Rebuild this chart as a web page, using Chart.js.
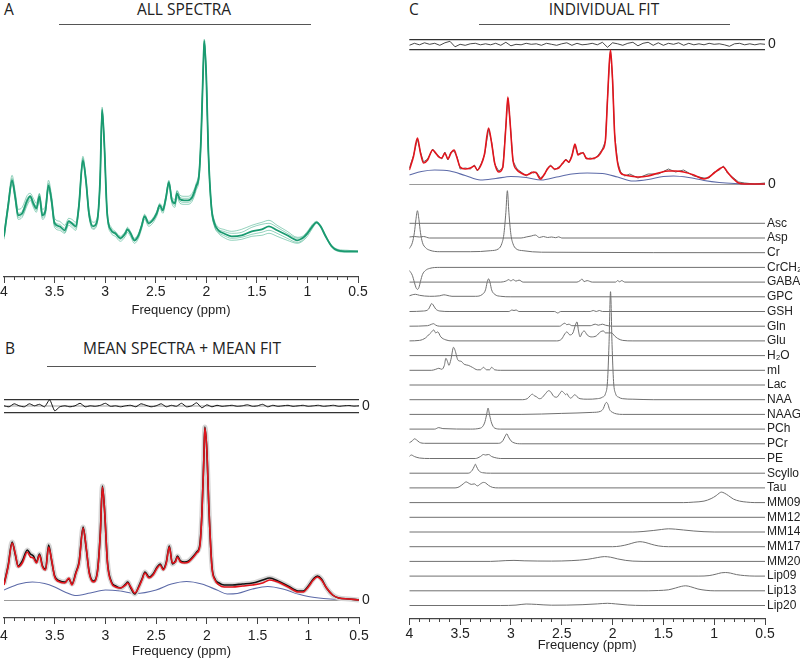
<!DOCTYPE html>
<html>
<head>
<meta charset="utf-8">
<script src="https://cdn.jsdelivr.net/npm/chart.js@4.4.1/dist/chart.umd.min.js"></script>
<style>
  body { margin:0; background:#fff; }
  #wrap { position:relative; width:800px; height:659px; overflow:hidden; }
  canvas { position:absolute; }
  .ttl { position:absolute; font-family:'Open Sans', sans-serif; font-size:15.5px; line-height:18px; color:#222; white-space:nowrap; }
  .mid { transform:translateX(-50%); }
  .rule { position:absolute; height:0; border-top:1.3px solid #555; }
</style>
</head>
<body>
<div id="wrap">
  <div class="ttl" style="left:4px;top:-0.5px">A</div>
  <div class="ttl mid" style="left:184px;top:-0.5px">ALL SPECTRA</div>
  <div class="rule" style="left:59px;top:24px;width:252px"></div>

  <div class="ttl" style="left:5px;top:338.5px">B</div>
  <div class="ttl mid" style="left:182px;top:338.5px">MEAN SPECTRA + MEAN FIT</div>
  <div class="rule" style="left:47px;top:366px;width:269px"></div>

  <div class="ttl" style="left:409px;top:-0.5px">C</div>
  <div class="ttl mid" style="left:604px;top:-0.5px">INDIVIDUAL FIT</div>
  <div class="rule" style="left:479px;top:24px;width:251px"></div>

  <canvas id="cA" width="420" height="300" style="left:-20px;top:30px"></canvas>
  <canvas id="cBres" width="400" height="40" style="left:0px;top:386px"></canvas>
  <canvas id="cB" width="420" height="249" style="left:-20px;top:410px"></canvas>
  <canvas id="cCres" width="400" height="40" style="left:400px;top:25px"></canvas>
  <canvas id="cC" width="400" height="175" style="left:400px;top:30px"></canvas>
  <canvas id="cBasis" width="420" height="489" style="left:380px;top:170px"></canvas>
</div>
<script>
// shared ppm grid for the full spectra
const ppm = [4.00,3.96,3.92,3.89,3.86,3.82,3.77,3.74,3.71,3.68,3.65,3.62,3.59,3.56,3.53,3.50,3.45,3.40,3.36,3.33,
  3.29,3.26,3.22,3.19,3.16,3.12,3.08,3.05,3.03,3.01,2.98,2.94,2.90,2.85,2.80,2.78,2.75,2.71,2.67,2.64,
  2.61,2.57,2.53,2.49,2.46,2.43,2.40,2.37,2.34,2.31,2.29,2.26,2.22,2.18,2.14,2.10,2.07,2.05,2.03,2.02,
  2.00,1.98,1.95,1.92,1.88,1.83,1.75,1.65,1.55,1.45,1.38,1.30,1.20,1.10,1.05,1.00,0.95,0.91,0.87,0.82,
  0.76,0.70,0.60,0.50];

// A: all spectra
const specAmean = [17,47,73,57,38,40,53,57,50,45,57,38,43,68,53,30,27,23,32,30,27,47,93,73,40,27,32,73,143,113,
  40,23,20,15,20,24,20,13,18,27,37,30,33,40,48,43,55,71,53,50,60,54,53,53,56,67,80,120,187,212,
  177,103,47,30,23,20,17,18,22,24,27,23,18,13,15,20,27,31,27,17,7,3,2,2];
const specA1 = [19,50,78,62,44,46,58,60,55,50,60,44,48,73,58,35,32,28,35,34,31,50,97,76,44,31,35,75,146,116,
  43,26,22,17,22,26,22,15,20,29,39,32,35,42,50,46,57,73,56,54,63,58,57,57,60,70,84,124,190,214,
  180,106,50,33,26,24,22,24,28,31,33,28,22,16,17,22,29,32,28,18,8,4,3,2];
const specA2 = [14,43,69,53,34,36,48,53,46,41,53,34,39,64,49,26,23,20,28,26,23,43,90,70,37,24,29,70,140,110,
  37,20,17,12,17,21,17,10,15,24,34,27,30,37,45,40,52,68,50,46,56,50,49,49,52,63,76,117,184,209,
  174,100,44,27,20,16,13,14,17,18,20,17,13,10,12,17,25,30,26,16,6,2,1,1];
const specA3 = [16,46,75,58,40,42,55,58,52,47,59,40,45,70,55,32,29,25,33,31,29,48,95,74,41,28,33,74,144,114,
  41,24,21,16,21,25,21,14,19,28,38,31,34,41,49,44,56,72,54,52,62,56,55,55,58,68,82,122,188,213,
  178,104,48,31,24,22,20,21,26,29,30,26,20,15,16,21,28,31,27,17,7,3,2,2];
const specA4 = [18,48,71,55,36,38,50,55,48,43,55,36,41,66,51,28,25,21,30,28,25,45,91,71,38,25,30,71,141,112,
  39,22,19,14,19,23,19,12,17,26,36,29,32,39,47,42,54,70,52,48,58,52,51,51,54,65,78,118,185,210,
  175,102,45,28,21,18,15,16,19,21,23,20,15,11,13,19,26,31,27,17,7,3,2,2];

// B: mean spectrum + mean fit
const meanDataB = [16,34,58,46,34,39,50,46,44,38,46,34,31,55,39,24,19,18,21,16,28,38,73,52,28,19,28,68,114,92,
  38,18,14,12,16,18,12,6,14,21,28,23,26,33,36,31,38,54,36,39,44,39,38,39,43,48,55,84,141,173,
  149,92,34,21,17,15,15,16,17,20,22,19,14,9,9,14,21,24,21,12,5,2,1,0];
const meanFitB = [15,33,57,47,33,37,48,43,42,37,45,33,30,53,40,23,18,17,22,15,27,37,72,53,27,18,27,67,113,93,
  37,17,13,12,15,17,13,7,13,20,27,22,25,32,35,30,37,53,37,38,43,38,37,38,42,47,53,83,140,172,
  150,93,33,20,15,13,13,14,15,17,20,18,13,8,8,13,20,23,20,12,5,2,1,0];
const baselineB = [[4,10],[3.85,16],[3.72,18],[3.6,16.5],[3.5,13],[3.4,8],[3.3,4.5],[3.15,7],[3.0,10],[2.85,9],
  [2.7,6.5],[2.5,10],[2.35,16],[2.2,18.5],[2.05,16],[1.9,10],[1.8,6],[1.7,6.5],[1.55,11],[1.4,13.5],
  [1.25,11],[1.1,6],[1.0,3.5],[0.85,1.5],[0.7,0.5],[0.5,0]];

// C: individual fit
const dataC = [16,28,45,32,22,25,35,30,28,25,32,24,32,33,27,15,16,15,19,13,21,29,55,42,20,13,16,58,86,65,
  23,15,12,8,12,11,12,6,9,16,19,14,17,20,25,21,29,39,30,30,32,25,26,25,29,35,43,85,123,133,
  105,50,22,12,8,10,6,10,10,15,12,14,8,6,6,12,14,18,11,7,2,1,0,1];
const fitC = [14,27,46,31,21,24,34,31,27,26,31,25,31,34,26,17,15,16,18,14,20,30,56,41,21,12,17,57,87,64,
  24,14,11,9,11,12,11,5,10,15,18,15,16,21,24,22,28,40,29,31,31,26,25,26,28,34,44,84,124,134,
  104,51,21,11,9,8,7,8,11,13,13,12,9,5,7,11,15,17,12,6,1,0,0,0];
const baselineC = [[4,9],[3.88,12.5],[3.75,14],[3.6,13],[3.45,8.5],[3.3,4],[3.15,5.5],[3.0,7.5],[2.85,6.5],[2.7,4],
  [2.55,7],[2.4,10],[2.25,11],[2.1,10.5],[1.95,7],[1.8,3],[1.65,4.5],[1.5,7.5],[1.4,8],[1.25,6.5],
  [1.1,3.5],[0.95,1.5],[0.8,0.5],[0.6,0],[0.5,0]];

// residuals
const resPpm = [4,3.95,3.9,3.85,3.8,3.75,3.7,3.65,3.6,3.55,3.5,3.45,3.4,3.35,3.3,3.25,3.2,3.15,3.1,3.05,
  3,2.95,2.9,2.85,2.8,2.75,2.7,2.65,2.6,2.55,2.5,2.45,2.4,2.35,2.3,2.25,2.2,2.15,2.1,2.05,
  2,1.95,1.9,1.85,1.8,1.75,1.7,1.65,1.6,1.55,1.5,1.45,1.4,1.35,1.3,1.25,1.2,1.15,1.1,1.05,
  1,0.95,0.9,0.85,0.8,0.75,0.7,0.65,0.6,0.55,0.5];
const resB = [0,-1,2,0,-1,2,0,1.5,-1,6,-5,-1,0,-1,0,2.5,-1,0,-0.5,0.5,
  2.5,-0.5,0,-1,0,0.5,-1,2,0.5,-1,0,2,-1,0.5,-0.5,2.5,-1,0,3,-2,
  1,-1,0.5,-0.5,0,0.5,-0.5,0,1,-0.5,0,1.5,-1,0.5,-0.5,0,0.5,-0.5,0,0.5,
  -0.5,0,0.5,-0.5,0,0.5,-0.5,0,0.3,-0.3,0];
const resC = [-1,1,-0.5,1.5,0,1,-1,1.5,3,-2.5,0,-1,0.5,1,-0.5,0.5,-0.5,1,-1,2,
  -1.5,0,-0.5,1,0,0.5,-1,1,0,-1,0.5,1.5,-1,1,-0.5,0,1,-0.5,2,-3,
  1.5,0.5,-1,1,2,-1.5,1,2,-1,1.5,-1,1,0,1.5,-1,1,-0.5,0.5,-0.5,1,
  0,0.5,-0.5,-2,0.5,1,-0.5,0.5,-0.5,0.5,0];

// C: basis functions, [ppm, height]
const metabNames = ['Asc','Asp','Cr','CrCH₂','GABA','GPC','GSH','Gln','Glu','H₂O','mI','Lac','NAA','NAAG',
  'PCh','PCr','PE','Scyllo','Tau','MM09','MM12','MM14','MM17','MM20','Lip09','Lip13','Lip20'];
const Asc = [[4,0],[0.5,0]];
const Asp = [[4,1],[3.95,1.5],[3.9,1],[3.86,1.5],[3.8,0],[2.9,0],[2.85,1],[2.8,2],[2.76,3],[2.72,0.5],[2.68,1.5],
  [2.64,0.5],[2.6,1],[2.56,0.3],[2.53,1.2],[2.5,0],[0.5,0]];
const Cr = [[4,4],[3.97,10],[3.95,20],[3.935,33],[3.92,42],[3.905,33],[3.89,20],[3.87,10],[3.84,5],[3.8,2.5],
  [3.7,1],[3.4,1],[3.2,2],[3.12,4],[3.09,9],[3.07,18],[3.05,40],[3.035,62],[3.02,40],[3.0,18],[2.98,9],
  [2.95,4],[2.88,2],[2.7,0.5],[0.5,0]];
const CrCH2 = [[4,-3],[3.97,-8],[3.95,-15],[3.935,-20],[3.92,-22],[3.905,-20],[3.89,-14],[3.87,-7],[3.84,-3],
  [3.8,-1],[3.7,0],[0.5,0]];
const GABA = [[4,0],[3.1,0],[3.05,1],[3.02,2.5],[3.0,1],[2.98,2.5],[2.95,1],[2.92,2],[2.88,0],[2.35,0],[2.32,1.5],
  [2.3,3],[2.28,0.5],[2.25,1.5],[2.2,0],[1.97,0],[1.95,1.5],[1.93,0.3],[1.91,1.5],[1.88,0],[0.5,0]];
const GPC = [[4,1],[3.97,2],[3.94,2.5],[3.9,1.5],[3.8,0.5],[3.7,1],[3.66,2],[3.63,1.5],[3.58,0.5],[3.35,0.5],
  [3.28,2.5],[3.25,7],[3.235,14],[3.22,18],[3.205,14],[3.19,7],[3.16,2.5],[3.1,0.5],[3.0,0],[0.5,0]];
const GSH = [[4,0],[3.86,0.5],[3.81,2.5],[3.79,6.5],[3.78,8],[3.765,6.5],[3.74,2.5],[3.7,0.5],[3.6,0],[3.02,0],
  [2.99,1.5],[2.97,1],[2.95,1.5],[2.92,0],[2.57,0],[2.54,-1.5],[2.51,0],[2.22,0],[2.19,1],[2.16,0],[2.13,1],
  [2.1,0],[0.5,0]];
const Gln = [[4,0],[3.82,0.5],[3.78,2],[3.76,2.5],[3.74,1],[3.7,0],[2.52,0],[2.49,2],[2.47,3],[2.45,1.5],
  [2.43,2],[2.4,0.5],[2.22,0.5],[2.17,2],[2.14,1],[2.1,2],[2.07,1],[2.0,0],[0.5,0]];
const Glu = [[4,0],[3.9,0.5],[3.84,3],[3.8,7],[3.78,9],[3.76,11],[3.74,8],[3.72,9],[3.69,4],[3.64,1],[3.58,0],
  [2.55,0],[2.5,2],[2.47,7],[2.45,9],[2.42,6],[2.39,8],[2.365,16],[2.35,19],[2.335,10],[2.32,4],[2.3,8],[2.28,10],
  [2.25,6],[2.21,4],[2.16,5],[2.12,9],[2.09,10],[2.07,8],[2.04,8],[2.01,8],[1.98,5],[1.95,2.5],[1.9,0.5],
  [1.8,0],[0.5,0]];
const H2O = [[4,0],[0.5,0]];
const mI = [[4,0],[3.78,0],[3.74,1],[3.71,2],[3.68,1],[3.655,5],[3.64,12],[3.625,9],[3.61,5],[3.59,11],[3.565,23],
  [3.55,20],[3.52,10],[3.49,9],[3.46,6],[3.42,5],[3.38,3],[3.33,0.5],[3.3,0.5],[3.27,3],[3.24,0.5],[3.21,0.5],
  [3.19,3],[3.16,0.5],[3.1,0],[0.5,0]];
const Lac = [[4,0],[0.5,0]];
const NAA = [[4,0],[2.9,0],[2.84,1],[2.81,4],[2.79,5.5],[2.77,4],[2.75,3],[2.72,1],[2.7,1.5],[2.66,6],[2.63,9],
  [2.61,8],[2.58,3.5],[2.55,2.5],[2.52,6],[2.5,8.5],[2.48,7],[2.46,5],[2.45,6],[2.43,3],[2.41,1.5],[2.39,3.5],
  [2.37,5],[2.35,3],[2.32,1],[2.25,0.5],[2.15,1],[2.1,2.5],[2.07,6],[2.05,18],[2.035,55],[2.02,108],[2.005,55],
  [1.99,18],[1.97,6],[1.94,2.5],[1.9,1],[1.8,0.5],[1.6,0],[0.5,0]];
const NAAG = [[4,0],[2.9,0],[2.5,1],[2.2,2],[2.12,3],[2.09,6],[2.075,10],[2.06,12],[2.045,10],[2.03,5],[2.0,2],
  [1.96,0.5],[1.9,0],[0.5,0]];
const PCh = [[4,0],[3.75,0],[3.71,1.5],[3.67,0.5],[3.4,0],[3.3,1],[3.26,6],[3.24,14],[3.225,21],[3.21,14],
  [3.19,6],[3.16,1],[3.1,0],[0.5,0]];
const PCr = [[4,1],[3.97,3],[3.95,5],[3.93,4],[3.9,1.5],[3.85,0.5],[3.12,0.5],[3.08,3],[3.06,7],[3.04,10],
  [3.025,7],[3.0,3],[2.97,1],[2.9,0],[0.5,0]];
const PE = [[4,2],[3.98,3.5],[3.95,2],[3.9,0.5],[3.8,0],[3.35,0],[3.3,2],[3.27,4],[3.25,3.5],[3.22,4],[3.19,2],
  [3.14,0.5],[3.1,0],[0.5,0]];
const Scyllo = [[4,0],[3.42,0],[3.38,3],[3.36,7],[3.35,9],[3.34,7],[3.32,3],[3.28,0.5],[3.2,0],[0.5,0]];
const Tau = [[4,0],[3.55,0],[3.51,1],[3.47,4],[3.44,6],[3.42,5],[3.39,3.5],[3.36,4],[3.33,2],[3.3,4],[3.27,5.5],
  [3.25,5],[3.22,2.5],[3.18,0.5],[3.12,0],[0.5,0]];
const MM09 = [[4,0],[1.3,0],[1.2,0.5],[1.1,1.5],[1.03,4],[0.98,7],[0.95,9.5],[0.93,10.5],[0.9,9.5],[0.86,7],
  [0.81,3.5],[0.75,1.5],[0.68,0.5],[0.6,0],[0.5,0]];
const MM12 = [[4,0],[0.5,0]];
const MM14 = [[4,0],[1.8,0],[1.7,0.5],[1.6,1.5],[1.52,2.5],[1.45,3.2],[1.38,2.8],[1.3,2],[1.2,1],[1.1,0.3],
  [1.0,0],[0.5,0]];
const MM17 = [[4,0],[2.0,0],[1.92,0.7],[1.84,2.5],[1.78,4.3],[1.73,5],[1.68,4.3],[1.62,2.5],[1.55,0.8],
  [1.45,0],[0.5,0]];
const MM20 = [[4,0],[3.2,0],[3.05,0.8],[2.97,1],[2.87,0.6],[2.6,0.3],[2.4,0.8],[2.25,2],[2.15,3.8],[2.08,4.8],
  [2.02,4.2],[1.95,2.5],[1.87,1],[1.8,0.3],[1.7,0],[0.5,0]];
const Lip09 = [[4,0],[1.15,0],[1.05,0.5],[0.98,2],[0.93,3.3],[0.89,3.6],[0.84,3],[0.78,1.5],[0.7,0.5],[0.6,0],[0.5,0]];
const Lip13 = [[4,0],[1.65,0],[1.55,0.3],[1.45,1],[1.38,2.8],[1.32,4.5],[1.28,5],[1.23,4],[1.16,1.8],[1.08,0.5],
  [1.0,0],[0.5,0]];
const Lip20 = [[4,0],[3.1,0],[2.95,0.4],[2.85,1.5],[2.75,1.1],[2.6,0.3],[2.45,0.4],[2.3,0.8],[2.15,1.6],[2.05,2.2],
  [1.97,1.6],[1.85,0.5],[1.7,0],[0.5,0]];
const basisList = [Asc,Asp,Cr,CrCH2,GABA,GPC,GSH,Gln,Glu,H2O,mI,Lac,NAA,NAAG,PCh,PCr,PE,Scyllo,Tau,
  MM09,MM12,MM14,MM17,MM20,Lip09,Lip13,Lip20];

const majorTicks = [4,3.5,3,2.5,2,1.5,1,0.5];

Chart.defaults.font.family = "'Liberation Sans', Arial, sans-serif";
Chart.defaults.color = '#222';

const onGrid = ys => ppm.map((x, i) => ({x: x, y: ys[i]}));
const onRes = ys => resPpm.map((x, i) => ({x: x, y: ys[i]}));
const fromPairs = (a, off) => a.map(p => ({x: p[0], y: p[1] + (off || 0)}));

function line(data, color, width, extra) {
  return Object.assign({data: data, borderColor: color, borderWidth: width, pointRadius: 0, fill: false,
    cubicInterpolationMode: 'monotone'}, extra || {});
}

const base = {
  responsive: false, animation: false, events: [],
  plugins: {legend: {display: false}, tooltip: {enabled: false}}
};

function xHidden() {
  return {type: 'linear', reverse: true, min: 0.5, max: 4, display: false};
}

function xAxes(h, labelPad, titlePad) {
  return {
    x: {
      type: 'linear', reverse: true, min: 0.5, max: 4, position: 'bottom', weight: 1,
      afterBuildTicks: s => { s.ticks = majorTicks.map(v => ({value: v})); },
      ticks: {callback: v => String(Math.round(v * 10) / 10), font: {size: 14}, padding: labelPad, maxRotation: 0, autoSkip: false},
      grid: {drawOnChartArea: false, tickLength: 6, color: '#444', tickWidth: 1},
      border: {color: '#444', width: 1.2},
      title: {display: true, text: 'Frequency (ppm)', font: {size: 13}, padding: {top: 0, bottom: titlePad}},
      afterFit: s => { s.height = h; }
    },
    xm: {
      type: 'linear', reverse: true, min: 0.5, max: 4, position: 'bottom', weight: 0,
      afterBuildTicks: s => {
        const t = [];
        for (let k = 40; k >= 5; k--) t.push({value: k / 10});
        s.ticks = t;
      },
      ticks: {display: false},
      grid: {drawOnChartArea: false, tickLength: 3, color: '#444', tickWidth: 1},
      border: {display: false},
      afterFit: s => { s.height = 0; }
    }
  };
}

// right-hand axis that shows a single "0" label, optional frame lines at the limits
function zeroAxis(min, max, frame, zeroColor) {
  return {
    type: 'linear', position: 'right', min: min, max: max,
    afterBuildTicks: s => { s.ticks = (frame ? [min, 0, max] : [0]).map(v => ({value: v})); },
    ticks: {callback: v => (v === 0 ? '0' : ''), font: {size: 14, lineHeight: 1}, padding: 0, autoSkip: false},
    grid: {drawTicks: true, tickLength: 3, tickColor: 'rgba(0,0,0,0)',
      color: c => (c.tick && c.tick.value === 0 ? zeroColor : '#333'),
      lineWidth: c => (c.tick && c.tick.value === 0 ? (frame ? 2 : 1) : 1.2)},
    border: {display: false},
    afterFit: s => { s.width = 14; }
  };
}

// ---- A
new Chart(document.getElementById('cA'), {
  type: 'line',
  data: {datasets: [
    line(onGrid(specAmean), '#1a9a70', 1.8),
    line(onGrid(specA1), 'rgba(30,160,115,0.6)', 0.8),
    line(onGrid(specA2), 'rgba(30,160,115,0.6)', 0.8),
    line(onGrid(specA3), 'rgba(30,160,115,0.6)', 0.8),
    line(onGrid(specA4), 'rgba(30,160,115,0.6)', 0.8)
  ]},
  options: Object.assign({}, base, {
    layout: {padding: {left: 24, right: 42, top: 0, bottom: 0}},
    scales: Object.assign(xAxes(53, 1, 12), {y: {type: 'linear', display: false, min: -23.7, max: 223.3}})
  })
});

// ---- B residual
new Chart(document.getElementById('cBres'), {
  type: 'line',
  data: {datasets: [line(onRes(resB), '#111', 1, {cubicInterpolationMode: 'default', tension: 0.2})]},
  options: Object.assign({}, base, {
    layout: {padding: {left: 4, right: 27, top: 13.3, bottom: 13.7}},
    scales: {x: xHidden(), y: zeroAxis(-6.5, 6.5, true, '#cfcfcf')}
  })
});

// ---- B main
new Chart(document.getElementById('cB'), {
  type: 'line',
  data: {datasets: [
    line(onGrid(meanFitB), '#e3141c', 1.6),
    line(onGrid(meanDataB), '#111', 1.6),
    line(onGrid(meanDataB), '#d6d6d6', 5),
    line(fromPairs(baselineB), '#5c6aa8', 1.1)
  ]},
  options: Object.assign({}, base, {
    layout: {padding: {left: 24, right: 27, top: 10, bottom: 0}},
    scales: Object.assign(xAxes(41, 4, 0), {y: zeroAxis(-18, 180, false, '#9a9a9a')})
  })
});

// ---- C residual
new Chart(document.getElementById('cCres'), {
  type: 'line',
  data: {datasets: [line(onRes(resC), '#333', 0.9, {cubicInterpolationMode: 'default', tension: 0})]},
  options: Object.assign({}, base, {
    layout: {padding: {left: 9.3, right: 21, top: 14.3, bottom: 15.7}},
    scales: {x: xHidden(), y: zeroAxis(-5, 5, true, 'rgba(0,0,0,0)')}
  })
});

// ---- C main
new Chart(document.getElementById('cC'), {
  type: 'line',
  data: {datasets: [
    line(onGrid(fitC), '#e3141c', 1.6),
    line(onGrid(dataC), '#555', 0.9, {cubicInterpolationMode: 'default', tension: 0}),
    line(fromPairs(baselineC), '#5c6aa8', 1.1)
  ]},
  options: Object.assign({}, base, {
    layout: {padding: {left: 9.3, right: 21, top: 15, bottom: 15}},
    scales: {x: xHidden(), y: zeroAxis(-6, 139, false, '#9a9a9a')}
  })
});

// ---- C basis stack
const rowTop = 395.7, rowStep = 14.7;
const rowOffsets = metabNames.map((n, i) => rowTop - rowStep * i);
new Chart(document.getElementById('cBasis'), {
  type: 'line',
  data: {datasets: basisList.map((b, i) => line(fromPairs(b, rowOffsets[i]), '#707070', 1))},
  options: Object.assign({}, base, {
    layout: {padding: {left: 29.3, right: 0, top: 15, bottom: 0}},
    scales: Object.assign(xAxes(40, 1, 6), {
      y: {
        type: 'linear', position: 'right', min: 0, max: 434,
        afterBuildTicks: s => { s.ticks = rowOffsets.map(v => ({value: v})); },
        ticks: {callback: v => metabNames[Math.round((rowTop - v) / rowStep)], font: {size: 12, lineHeight: 1},
          padding: 0, autoSkip: false},
        grid: {display: false, drawTicks: true, tickLength: 2},
        border: {display: false},
        afterFit: s => { s.width = 35; }
      }
    })
  })
});
</script>
</body>
</html>
